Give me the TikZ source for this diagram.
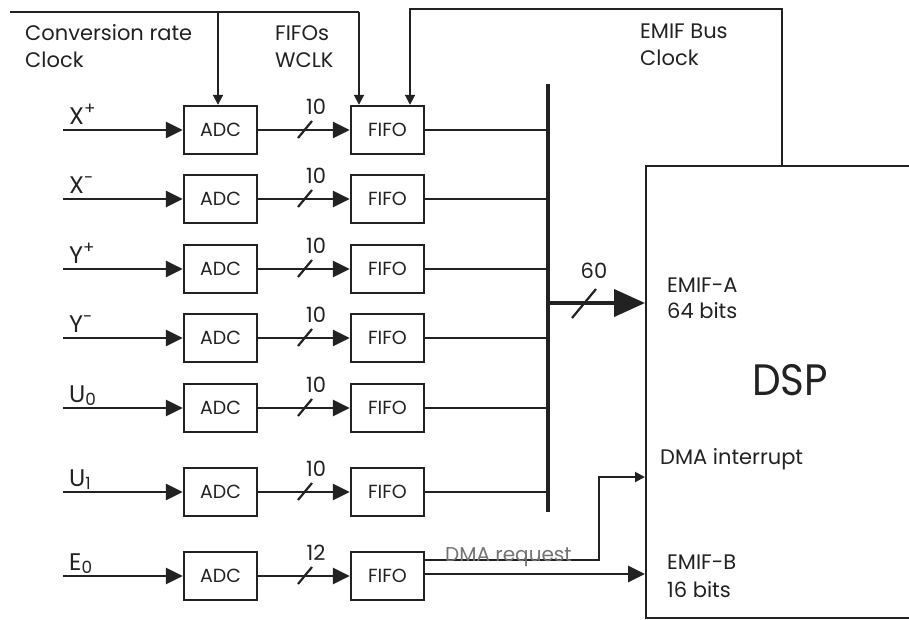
\documentclass[tikz,border=0pt]{standalone}
\usepackage{fontspec}
\setmainfont{Poppins}
\usetikzlibrary{arrows.meta}
\definecolor{ink}{HTML}{222222}
\begin{document}
\begin{tikzpicture}[x=1pt,y=-1pt,
  box/.style={draw=ink, line width=2.4pt, minimum width=73pt, minimum height=48pt, inner sep=0pt, font=\fontsize{19}{22}\selectfont, text=ink},
  lbl/.style={anchor=base west, inner sep=0pt, font=\fontsize{21}{24}\selectfont, text=ink},
  inlbl/.style={anchor=base west, inner sep=0pt, font=\fontsize{24}{28}\selectfont, text=ink},
  num/.style={anchor=base, inner sep=0pt, font=\fontsize{21}{24}\selectfont, text=ink},
  wire/.style={draw=ink, line width=2.8pt},
  thin/.style={draw=ink, line width=1.9pt},
  big/.style={-{Triangle[length=17pt,width=16pt]}},
  small/.style={-{Triangle[length=10pt,width=10pt]}},
  slash/.style={draw=ink, line width=2.2pt}]
\useasboundingbox (0,0) rectangle (909,619);

% DSP
\node[draw=ink, line width=2.4pt, anchor=north west, minimum width=290pt, minimum height=452pt, inner sep=0pt] (dsp) at (645,165) {};
\node[anchor=base west, inner sep=0pt, font=\fontsize{44}{50}\selectfont, text=ink, xscale=0.92] (dsplbl) at (752,395) {DSP};

% rows
\foreach \i/\lab/\yy/\bits in {1/{X\textsuperscript{+}}/130/10, 2/{X\textsuperscript{-}}/199/10, 3/{Y\textsuperscript{+}}/269/10, 4/{Y\textsuperscript{-}}/338/10, 5/{U\textsubscript{0}}/408/10, 6/{U\textsubscript{1}}/492/10, 7/{E\textsubscript{0}}/576/12}{
  \node[box] (adc\i) at (220.5,\yy) {ADC};
  \node[box] (fifo\i) at (387.5,\yy) {FIFO};
  \coordinate (in\i) at (63,\yy);
  \node[inlbl] (lab\i) at (69,\yy-6) {\lab};
  \draw[wire,big] (in\i) -- (adc\i.west);
  \draw[wire,big] (adc\i.east) -- (fifo\i.west);
  \draw[slash] (298,\yy+8) -- (312,\yy-9);
  \node[num] (bits\i) at (316,\yy-16) {\bits};
}

% bus
\coordinate (bustop) at (548,84);
\coordinate (busbot) at (548,512);
\draw[draw=ink, line width=4pt] (bustop) -- (busbot);
\foreach \i in {1,...,6}{
  \draw[wire] (fifo\i.east) -- (fifo\i.east -| bustop);
}
\coordinate (busout) at (548,303);
\draw[draw=ink, line width=4pt, -{Triangle[length=31pt,width=27pt]}] (busout) -- (busout -| dsp.west);
\draw[slash] (572,318) -- (596,289);
\node[num] (sixty) at (594,278) {60};
\node[lbl] (emifa) at (667,292) {EMIF-A};
\node[lbl] (emifa2) at (667,318) {64 bits};

% clocks
\coordinate (clkL) at (10,12);
\coordinate (clkA) at (218,12);
\coordinate (clkF) at (359,12);
\draw[thin] (clkL) -- (clkF);
\draw[thin,small] (clkA) -- (clkA |- adc1.north);
\draw[thin,small] (clkF) -- (clkF |- fifo1.north);
\node[lbl] (conv) at (25,40) {Conversion rate};
\node[lbl] (conv2) at (25,67) {Clock};
\node[lbl] (wclk) at (275,40) {FIFOs};
\node[lbl] (wclk2) at (275,67) {WCLK};

\coordinate (emifT) at (782,9);
\coordinate (emifF) at (410,9);
\draw[thin,small] (emifT |- dsp.north) -- (emifT) -- (emifF) -- (emifF |- fifo1.north);
\node[lbl] (emifclk) at (640,38) {EMIF Bus};
\node[lbl] (emifclk2) at (640,65) {Clock};

% DMA
\coordinate (dmaA) at (424,560);
\coordinate (dmaB) at (599,560);
\coordinate (dmaC) at (599,477);
\draw[thin,small] (dmaA) -- (dmaB) -- (dmaC) -- (dmaC -| dsp.west);
\node[anchor=base west, inner sep=0pt, font=\fontsize{20}{23}\selectfont, text=black!55] (dmareq) at (445,561) {DMA request};
\node[lbl] (dmaint) at (660,464) {DMA interrupt};

\draw[wire,big] (fifo7.east |- 0,574) -- (dsp.west |- 0,574);
\node[lbl] (emifb) at (667,569) {EMIF-B};
\node[lbl] (emifb2) at (667,597) {16 bits};
\end{tikzpicture}
\end{document}
